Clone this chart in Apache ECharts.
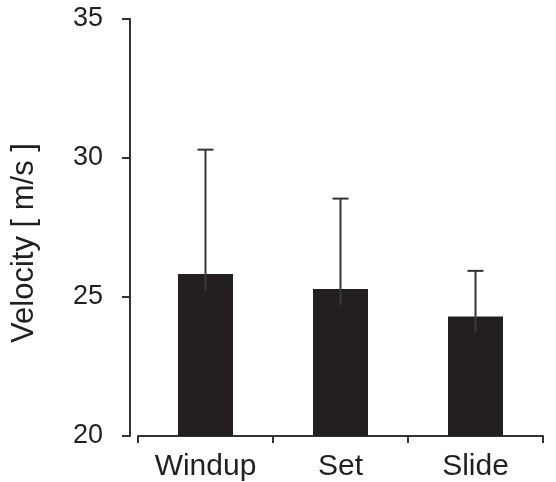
<!DOCTYPE html>
<html>
<head>
<meta charset="utf-8">
<script src="https://cdn.jsdelivr.net/npm/echarts@6/dist/echarts.min.js"></script>
<style>html,body{margin:0;padding:0;background:#fff}#c{width:556px;height:482px}</style>
</head>
<body>
<div id="c"></div>
<script>
const categories = ['Windup', 'Set', 'Slide'];
const means = [25.83, 25.29, 24.30];
const errorTops = [30.30, 28.54, 25.94];
const yTicks = [20, 25, 30, 35];

const chart = echarts.init(document.getElementById('c'));
const FONT = 'Liberation Sans';
const DARK = '#231f20';

chart.setOption({
  animation: false,
  grid: { left: 138, right: 13, top: 19, bottom: 46 },
  graphic: [{
    type: 'text',
    x: 9, y: 243,
    rotation: Math.PI / 2,
    style: { text: 'Velocity [ m/s ]', font: '31px "' + FONT + '"', fill: DARK, align: 'center', verticalAlign: 'top' }
  }],
  xAxis: {
    type: 'category',
    data: categories,
    boundaryGap: true,
    axisLine: { lineStyle: { color: '#333', width: 2 } },
    axisTick: { show: true, length: 7, lineStyle: { color: '#333', width: 2 }, alignWithLabel: false },
    axisLabel: { fontFamily: FONT, fontSize: 30, color: DARK, margin: 16 }
  },
  yAxis: {
    type: 'value',
    min: yTicks[0], max: yTicks[yTicks.length - 1], interval: 5,
    offset: 8,
    splitLine: { show: false },
    axisLine: { show: true, lineStyle: { color: '#333', width: 2 } },
    axisTick: { show: true, length: 8, lineStyle: { color: '#333', width: 2 } },
    axisLabel: { fontFamily: FONT, fontSize: 27, color: DARK, margin: 27 }
  },
  series: [{
    type: 'bar',
    data: means,
    barWidth: 55,
    itemStyle: { color: DARK },
    z: 2
  }, {
    type: 'custom',
    z: 3,
    data: categories.map((c, i) => [i, means[i], errorTops[i]]),
    renderItem: function (params, api) {
      const top = api.coord([api.value(0), api.value(2)]);
      const base = api.coord([api.value(0), api.value(1)]);
      const x = base[0];
      return {
        type: 'group',
        children: [
          { type: 'line', shape: { x1: x, y1: base[1], x2: x, y2: top[1] }, style: { stroke: '#333', lineWidth: 2 } },
          { type: 'line', shape: { x1: x, y1: base[1], x2: x, y2: base[1] + 16 }, style: { stroke: '#3a3a3a', lineWidth: 2 } },
          { type: 'line', shape: { x1: x - 8, y1: top[1], x2: x + 8, y2: top[1] }, style: { stroke: '#333', lineWidth: 2 } }
        ]
      };
    }
  }]
});
</script>
</body>
</html>
